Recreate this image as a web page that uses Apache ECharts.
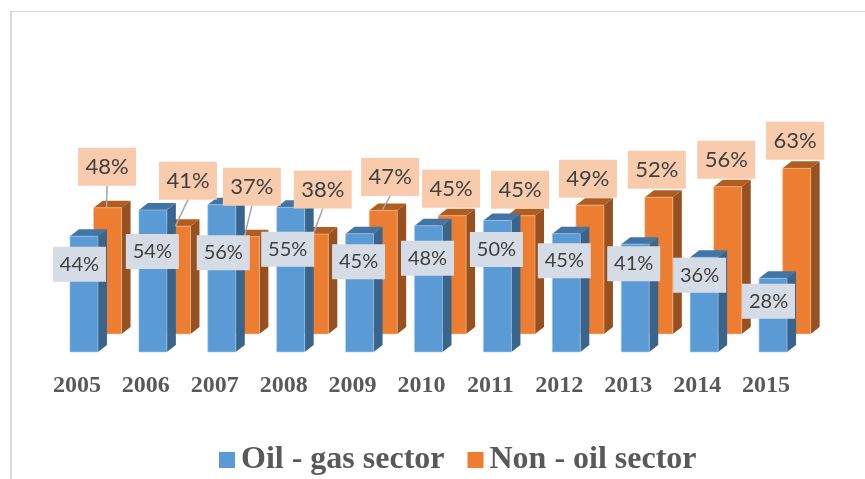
<!DOCTYPE html>
<html lang="en">
  <head>
    <meta charset="UTF-8" />
    <title>Oil - gas sector and Non - oil sector</title>
    <script src="https://cdn.jsdelivr.net/npm/echarts@6/dist/echarts.min.js"></script>
    <style>
      html, body { margin: 0; padding: 0; background: #fff; overflow: hidden; }
      #frame { position: absolute; left: 10px; top: 11px; right: 0; bottom: 0; border-left: 2px solid #d9d9d9; border-top: 1px solid #d9d9d9; }
      #chart { position: absolute; left: 0; top: 0; width: 865px; height: 479px; }
    </style>
  </head>
  <body>
    <div id="frame"></div>
    <div id="chart"></div>
    <script>
      var years = ['2005', '2006', '2007', '2008', '2009', '2010', '2011', '2012', '2013', '2014', '2015'];
      var oilValues = [44, 54, 56, 55, 45, 48, 50, 45, 41, 36, 28];
      var nonOilValues = [48, 41, 37, 38, 47, 45, 45, 49, 52, 56, 63];

      // labels were dragged by hand in the original, so each one has its own shift from the bar top
      var oilLabelShift = [[-4.5, 28], [-0.5, 41.5], [1.5, 48], [-3, 42], [-1, 28], [-1, 32.5], [-1, 29], [-2, 27], [-1.5, 19.5], [-4.5, 18], [-4.5, 23]];
      var nonOilLabelShift = [[-0.5, -41], [11.5, -45.5], [6.5, -50], [8.5, -44.5], [7, -33.5], [-1, -27], [-1, -26], [-2, -26.5], [-2, -27.5], [-1.5, -27], [-1.5, -27.5]];

      var oilColors = { front: '#5b9bd5', side: '#39658c', top: '#4275a5', edge: '#a8cbea' };
      var nonOilColors = { front: '#ed7d31', side: '#97501f', top: '#b15d20', edge: '#f6c3a0' };
      var barWidth = 28;
      var depthX = 9;
      var depthY = 7;
      var oilShiftX = 7; // bar centre to the right of the year label
      var nonOilShiftX = 30.6;
      var nonOilLift = 18; // back row sits higher up

      function barRender(colors, shiftX, lift) {
        return function (params, api) {
          var topPt = api.coord([api.value(0), api.value(1)]);
          var basePt = api.coord([api.value(0), 0]);
          var l = topPt[0] + shiftX - barWidth / 2;
          var r = l + barWidth;
          var t = topPt[1] - lift;
          var b = basePt[1] - lift;
          return {
            type: 'group',
            children: [
              {
                type: 'polygon',
                shape: { points: [[r, t], [r + depthX, t - depthY], [r + depthX, b - depthY], [r, b]] },
                style: { fill: colors.side }
              },
              {
                type: 'polygon',
                shape: { points: [[l, t], [l + depthX, t - depthY], [r + depthX, t - depthY], [r, t]] },
                style: { fill: colors.top }
              },
              {
                type: 'rect',
                shape: { x: l, y: t, width: barWidth, height: b - t },
                style: { fill: colors.front, stroke: colors.edge, lineWidth: 0.6 }
              }
            ]
          };
        };
      }

      function labelRender(opt) {
        return function (params, api) {
          var i = params.dataIndex;
          var topPt = api.coord([api.value(0), api.value(1)]);
          var barX = topPt[0] + opt.shiftX;
          var barY = topPt[1] - opt.lift;
          var cx = barX + opt.shift[i][0];
          var cy = barY + opt.shift[i][1];
          var children = [];
          // leader only for the labels pulled far away from their bar
          if (opt.leader && opt.shift[i][1] < -30) {
            children.push({
              type: 'line',
              shape: { x1: cx, y1: cy + opt.h / 2, x2: barX - 1, y2: barY },
              style: { stroke: '#a6a6a6', lineWidth: 1.5 }
            });
          }
          children.push({
            type: 'rect',
            shape: { x: cx - opt.w / 2, y: cy - opt.h / 2, width: opt.w, height: opt.h },
            style: { fill: opt.fill }
          });
          children.push({
            type: 'text',
            style: {
              x: cx,
              y: cy,
              text: api.value(1) + '%',
              textAlign: 'center',
              textVerticalAlign: 'middle',
              fontFamily: 'Lato',
              fontSize: opt.fontSize,
              fill: '#404040'
            }
          });
          return { type: 'group', children: children };
        };
      }

      function toPoints(values) {
        return values.map(function (v, i) {
          return [i, v];
        });
      }

      var chart = echarts.init(document.getElementById('chart'), null, { renderer: 'canvas' });

      chart.setOption({
        animation: false,
        grid: { left: 42.5, top: 89, width: 758, height: 263 },
        legend: {
          left: 214,
          top: 439,
          data: ['Oil - gas sector', 'Non - oil sector'],
          icon: 'rect',
          itemWidth: 16,
          itemHeight: 16,
          itemGap: 23,
          selectedMode: false,
          textStyle: {
            fontFamily: 'Liberation Serif',
            fontWeight: 'bold',
            fontSize: 32,
            color: '#595959',
            padding: [0, 0, 0, 1]
          }
        },
        xAxis: {
          type: 'category',
          data: years,
          axisLine: { show: false },
          axisTick: { show: false },
          axisLabel: {
            margin: 22,
            fontFamily: 'Liberation Serif',
            fontWeight: 'bold',
            fontSize: 24,
            color: '#595959'
          }
        },
        yAxis: { type: 'value', min: 0, max: 100, show: false },
        series: [
          {
            name: 'Non - oil sector',
            type: 'custom',
            z: 2,
            itemStyle: { color: nonOilColors.front },
            encode: { x: 0, y: 1 },
            data: toPoints(nonOilValues),
            renderItem: barRender(nonOilColors, nonOilShiftX, nonOilLift)
          },
          {
            name: 'Oil - gas sector',
            type: 'custom',
            z: 3,
            itemStyle: { color: oilColors.front },
            encode: { x: 0, y: 1 },
            data: toPoints(oilValues),
            renderItem: barRender(oilColors, oilShiftX, 0)
          },
          {
            name: 'Non - oil labels',
            type: 'custom',
            z: 4,
            encode: { x: 0, y: 1 },
            data: toPoints(nonOilValues),
            renderItem: labelRender({
              shift: nonOilLabelShift,
              shiftX: nonOilShiftX,
              lift: nonOilLift,
              w: 58,
              h: 38,
              fill: '#f8cbad',
              fontSize: 22,
              leader: true
            })
          },
          {
            name: 'Oil labels',
            type: 'custom',
            z: 5,
            encode: { x: 0, y: 1 },
            data: toPoints(oilValues),
            renderItem: labelRender({
              shift: oilLabelShift,
              shiftX: oilShiftX,
              lift: 0,
              w: 53,
              h: 35,
              fill: '#d6dce5',
              fontSize: 20,
              leader: false
            })
          }
        ]
      });
    </script>
  </body>
</html>
